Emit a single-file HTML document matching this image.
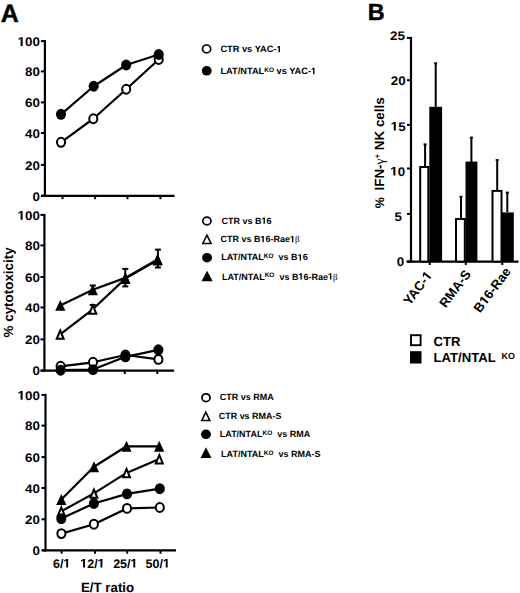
<!DOCTYPE html>
<html><head><meta charset="utf-8"><style>
html,body{margin:0;padding:0;background:#fff;}
body{width:520px;height:593px;overflow:hidden;}
svg{display:block;}
text{font-family:"Liberation Sans", sans-serif;font-weight:bold;fill:#000;text-rendering:geometricPrecision;}
text .one{fill-opacity:0;}
</style></head><body>
<svg width="520" height="593" viewBox="0 0 520 593">
<rect width="520" height="593" fill="#fff"></rect>
<text x="0.8" y="22.4" font-size="25" text-anchor="start" stroke="#000" stroke-width="0.4">A</text>
<text x="367.8" y="19.8" font-size="23.4" text-anchor="start" stroke="#000" stroke-width="0.4">B</text>
<line x1="44.9" y1="40.1" x2="44.9" y2="196.9" stroke="#000" stroke-width="2.2"></line>
<line x1="41.3" y1="195.8" x2="174.6" y2="195.8" stroke="#000" stroke-width="2.2"></line>
<line x1="40.9" y1="41.1" x2="44.9" y2="41.1" stroke="#000" stroke-width="2"></line>
<text x="0" y="0" font-size="12.5" text-anchor="end" transform="translate(39.9,45.90) scale(1.07,1)"><tspan class="one">1</tspan>00</text><g transform="translate(39.9,45.90) scale(1.07,1)"><path d="M462,0L462,1160L130,952L130,1185L486,1409L775,1409L775,0Z" transform="translate(-20.859,0.000) scale(0.006104,-0.006104)"></path></g>
<line x1="40.9" y1="71.4" x2="44.9" y2="71.4" stroke="#000" stroke-width="2"></line>
<text x="0" y="0" font-size="12.5" text-anchor="end" transform="translate(39.9,76.20) scale(1.07,1)">80</text>
<line x1="40.9" y1="102.4" x2="44.9" y2="102.4" stroke="#000" stroke-width="2"></line>
<text x="0" y="0" font-size="12.5" text-anchor="end" transform="translate(39.9,107.20) scale(1.07,1)">60</text>
<line x1="40.9" y1="133" x2="44.9" y2="133" stroke="#000" stroke-width="2"></line>
<text x="0" y="0" font-size="12.5" text-anchor="end" transform="translate(39.9,137.80) scale(1.07,1)">40</text>
<line x1="40.9" y1="164.9" x2="44.9" y2="164.9" stroke="#000" stroke-width="2"></line>
<text x="0" y="0" font-size="12.5" text-anchor="end" transform="translate(39.9,169.70) scale(1.07,1)">20</text>
<line x1="40.9" y1="195.8" x2="44.9" y2="195.8" stroke="#000" stroke-width="2"></line>
<text x="0" y="0" font-size="12.5" text-anchor="end" transform="translate(39.9,200.60) scale(1.07,1)">0</text>
<line x1="62.5" y1="195.8" x2="62.5" y2="199.20000000000002" stroke="#000" stroke-width="2"></line>
<line x1="95.1" y1="195.8" x2="95.1" y2="199.20000000000002" stroke="#000" stroke-width="2"></line>
<line x1="127.5" y1="195.8" x2="127.5" y2="199.20000000000002" stroke="#000" stroke-width="2"></line>
<line x1="160.4" y1="195.8" x2="160.4" y2="199.20000000000002" stroke="#000" stroke-width="2"></line>
<polyline points="61,142.3 93.3,118.75 126.2,89.25 158.7,59.5" fill="none" stroke="#000" stroke-width="2.2" stroke-linejoin="round"></polyline>
<polyline points="61,114.3 93.7,86.25 126.2,65 158.7,54.5" fill="none" stroke="#000" stroke-width="2.2" stroke-linejoin="round"></polyline>
<ellipse cx="61" cy="142.3" rx="4.04" ry="4.46" fill="#fff" stroke="#000" stroke-width="2"></ellipse>
<ellipse cx="93.3" cy="118.75" rx="4.04" ry="4.46" fill="#fff" stroke="#000" stroke-width="2"></ellipse>
<ellipse cx="126.2" cy="89.25" rx="4.04" ry="4.46" fill="#fff" stroke="#000" stroke-width="2"></ellipse>
<ellipse cx="158.7" cy="59.5" rx="4.04" ry="4.46" fill="#fff" stroke="#000" stroke-width="2"></ellipse>
<ellipse cx="61" cy="114.3" rx="5.04" ry="5.46" fill="#000"></ellipse>
<ellipse cx="93.7" cy="86.25" rx="5.04" ry="5.46" fill="#000"></ellipse>
<ellipse cx="126.2" cy="65" rx="5.04" ry="5.46" fill="#000"></ellipse>
<ellipse cx="158.7" cy="54.5" rx="5.04" ry="5.46" fill="#000"></ellipse>
<ellipse cx="206.6" cy="48.9" rx="4.10" ry="3.90" fill="#fff" stroke="#000" stroke-width="1.7"></ellipse>
<text x="220.4" y="52.3" font-size="9.25" text-anchor="start">CTR vs YAC-<tspan class="one">1</tspan></text><g><path d="M462,0L462,1160L130,952L130,1185L486,1409L775,1409L775,0Z" transform="translate(276.447,52.300) scale(0.004517,-0.004517)"></path></g>
<ellipse cx="206.75" cy="70.85" rx="4.95" ry="4.75" fill="#000"></ellipse>
<text x="220.4" y="74.2" font-size="9.25" text-anchor="start">LAT/NTAL<tspan font-size="6.5" dy="-2.1">KO</tspan><tspan dy="2.1"> vs YAC-<tspan class="one">1</tspan></tspan></text><g><path d="M462,0L462,1160L130,952L130,1185L486,1409L775,1409L775,0Z" transform="translate(311.025,74.200) scale(0.004517,-0.004517)"></path></g>
<line x1="44.4" y1="213.9" x2="44.4" y2="371.70000000000005" stroke="#000" stroke-width="2.2"></line>
<line x1="40.8" y1="370.6" x2="174.1" y2="370.6" stroke="#000" stroke-width="2.2"></line>
<line x1="40.4" y1="214.9" x2="44.4" y2="214.9" stroke="#000" stroke-width="2"></line>
<text x="0" y="0" font-size="12.5" text-anchor="end" transform="translate(39.9,219.70) scale(1.07,1)"><tspan class="one">1</tspan>00</text><g transform="translate(39.9,219.70) scale(1.07,1)"><path d="M462,0L462,1160L130,952L130,1185L486,1409L775,1409L775,0Z" transform="translate(-20.859,0.000) scale(0.006104,-0.006104)"></path></g>
<line x1="40.4" y1="245.4" x2="44.4" y2="245.4" stroke="#000" stroke-width="2"></line>
<text x="0" y="0" font-size="12.5" text-anchor="end" transform="translate(39.9,250.20) scale(1.07,1)">80</text>
<line x1="40.4" y1="277" x2="44.4" y2="277" stroke="#000" stroke-width="2"></line>
<text x="0" y="0" font-size="12.5" text-anchor="end" transform="translate(39.9,281.80) scale(1.07,1)">60</text>
<line x1="40.4" y1="307.5" x2="44.4" y2="307.5" stroke="#000" stroke-width="2"></line>
<text x="0" y="0" font-size="12.5" text-anchor="end" transform="translate(39.9,312.30) scale(1.07,1)">40</text>
<line x1="40.4" y1="339.4" x2="44.4" y2="339.4" stroke="#000" stroke-width="2"></line>
<text x="0" y="0" font-size="12.5" text-anchor="end" transform="translate(39.9,344.20) scale(1.07,1)">20</text>
<line x1="40.4" y1="370.6" x2="44.4" y2="370.6" stroke="#000" stroke-width="2"></line>
<text x="0" y="0" font-size="12.5" text-anchor="end" transform="translate(39.9,375.40) scale(1.07,1)">0</text>
<line x1="59.8" y1="370.6" x2="59.8" y2="374.0" stroke="#000" stroke-width="2"></line>
<line x1="92.3" y1="370.6" x2="92.3" y2="374.0" stroke="#000" stroke-width="2"></line>
<line x1="124.8" y1="370.6" x2="124.8" y2="374.0" stroke="#000" stroke-width="2"></line>
<line x1="157.3" y1="370.6" x2="157.3" y2="374.0" stroke="#000" stroke-width="2"></line>
<polyline points="60.3,305.4 92.8,289.8 125.3,277.9 157.6,259.4" fill="none" stroke="#000" stroke-width="2.2" stroke-linejoin="round"></polyline>
<polyline points="60.2,334.4 92.8,309.3 125.3,278.6 157.6,260" fill="none" stroke="#000" stroke-width="2.2" stroke-linejoin="round"></polyline>
<polyline points="60.6,366.3 93,362.3 125.4,355 158.4,359.4" fill="none" stroke="#000" stroke-width="2.2" stroke-linejoin="round"></polyline>
<polyline points="60.6,370.2 93,369.6 125.4,356.8 158.4,349.8" fill="none" stroke="#000" stroke-width="2.2" stroke-linejoin="round"></polyline>
<line x1="125.3" y1="268.9" x2="125.3" y2="286.4" stroke="#000" stroke-width="2"></line>
<line x1="122.3" y1="268.9" x2="128.3" y2="268.9" stroke="#000" stroke-width="2"></line>
<line x1="122.3" y1="286.4" x2="128.3" y2="286.4" stroke="#000" stroke-width="2"></line>
<line x1="157.9" y1="249.6" x2="157.9" y2="267.5" stroke="#000" stroke-width="2"></line>
<line x1="154.9" y1="249.6" x2="160.9" y2="249.6" stroke="#000" stroke-width="2"></line>
<line x1="154.9" y1="267.5" x2="160.9" y2="267.5" stroke="#000" stroke-width="2"></line>
<line x1="92.8" y1="285.5" x2="92.8" y2="294" stroke="#000" stroke-width="2"></line>
<line x1="89.8" y1="285.5" x2="95.8" y2="285.5" stroke="#000" stroke-width="2"></line>
<line x1="89.8" y1="294" x2="95.8" y2="294" stroke="#000" stroke-width="2"></line>
<line x1="92.8" y1="305" x2="92.8" y2="313" stroke="#000" stroke-width="2"></line>
<line x1="89.8" y1="305" x2="95.8" y2="305" stroke="#000" stroke-width="2"></line>
<line x1="89.8" y1="313" x2="95.8" y2="313" stroke="#000" stroke-width="2"></line>
<ellipse cx="60.6" cy="366.3" rx="4.04" ry="4.46" fill="#fff" stroke="#000" stroke-width="2"></ellipse>
<ellipse cx="93" cy="362.3" rx="4.04" ry="4.46" fill="#fff" stroke="#000" stroke-width="2"></ellipse>
<ellipse cx="125.4" cy="355" rx="4.04" ry="4.46" fill="#fff" stroke="#000" stroke-width="2"></ellipse>
<ellipse cx="158.4" cy="359.4" rx="4.04" ry="4.46" fill="#fff" stroke="#000" stroke-width="2"></ellipse>
<ellipse cx="60.6" cy="370.2" rx="5.04" ry="5.46" fill="#000"></ellipse>
<ellipse cx="93" cy="369.6" rx="5.04" ry="5.46" fill="#000"></ellipse>
<ellipse cx="125.4" cy="356.8" rx="5.04" ry="5.46" fill="#000"></ellipse>
<ellipse cx="158.4" cy="349.8" rx="5.04" ry="5.46" fill="#000"></ellipse>
<polygon points="60.20,330.49 63.70,338.81 56.70,338.81" fill="#fff" stroke="#000" stroke-width="2" stroke-linejoin="miter"></polygon>
<polygon points="92.80,305.39 96.30,313.71 89.30,313.71" fill="#fff" stroke="#000" stroke-width="2" stroke-linejoin="miter"></polygon>
<polygon points="125.30,274.69 128.80,283.01 121.80,283.01" fill="#fff" stroke="#000" stroke-width="2" stroke-linejoin="miter"></polygon>
<polygon points="157.60,256.09 161.10,264.41 154.10,264.41" fill="#fff" stroke="#000" stroke-width="2" stroke-linejoin="miter"></polygon>
<polygon points="60.30,299.94 65.40,310.86 55.20,310.86" fill="#000"></polygon>
<polygon points="92.80,284.34 97.90,295.26 87.70,295.26" fill="#000"></polygon>
<polygon points="125.30,272.44 130.40,283.36 120.20,283.36" fill="#000"></polygon>
<polygon points="157.60,253.94 162.70,264.86 152.50,264.86" fill="#000"></polygon>
<ellipse cx="206.9" cy="221" rx="4.10" ry="3.90" fill="#fff" stroke="#000" stroke-width="1.7"></ellipse>
<text x="221.5" y="223.8" font-size="9.0" text-anchor="start">CTR vs B<tspan class="one">1</tspan>6</text><g><path d="M462,0L462,1160L130,952L130,1185L486,1409L775,1409L775,0Z" transform="translate(261.516,223.800) scale(0.004395,-0.004395)"></path></g>
<polygon points="206.90,235.20 211.05,243.40 202.75,243.40" fill="#fff" stroke="#000" stroke-width="1.55"></polygon>
<text x="220.4" y="242.3" font-size="9.0" text-anchor="start">CTR vs B<tspan class="one">1</tspan>6-Rae<tspan class="one">1</tspan><tspan font-family="Liberation Serif" font-weight="normal">β</tspan></text><g><path d="M462,0L462,1160L130,952L130,1185L486,1409L775,1409L775,0Z" transform="translate(260.416,242.300) scale(0.004395,-0.004395)"></path><path d="M462,0L462,1160L130,952L130,1185L486,1409L775,1409L775,0Z" transform="translate(289.947,242.300) scale(0.004395,-0.004395)"></path></g>
<ellipse cx="207.05" cy="257.65" rx="4.95" ry="4.75" fill="#000"></ellipse>
<text x="221.2" y="260.4" font-size="9.0" text-anchor="start">LAT/NTAL<tspan font-size="6.5" dy="-2.1">KO</tspan><tspan dy="2.1">&nbsp; vs B<tspan class="one">1</tspan>6</tspan></text><g><path d="M462,0L462,1160L130,952L130,1185L486,1409L775,1409L775,0Z" transform="translate(297.622,260.400) scale(0.004395,-0.004395)"></path></g>
<polygon points="207.10,270.80 212.70,281.20 201.50,281.20" fill="#000"></polygon>
<text x="222" y="279.5" font-size="9.0" text-anchor="start">LAT/NTAL<tspan font-size="6.5" dy="-2.1">KO</tspan><tspan dy="2.1">&nbsp; vs B<tspan class="one">1</tspan>6-Rae<tspan class="one">1</tspan></tspan><tspan font-family="Liberation Serif" font-weight="normal">β</tspan></text><g><path d="M462,0L462,1160L130,952L130,1185L486,1409L775,1409L775,0Z" transform="translate(298.422,279.500) scale(0.004395,-0.004395)"></path><path d="M462,0L462,1160L130,952L130,1185L486,1409L775,1409L775,0Z" transform="translate(327.953,279.500) scale(0.004395,-0.004395)"></path></g>
<line x1="45.5" y1="393.9" x2="45.5" y2="551.4" stroke="#000" stroke-width="2.2"></line>
<line x1="41.9" y1="550.3" x2="176" y2="550.3" stroke="#000" stroke-width="2.2"></line>
<line x1="41.5" y1="394.9" x2="45.5" y2="394.9" stroke="#000" stroke-width="2"></line>
<text x="0" y="0" font-size="12.5" text-anchor="end" transform="translate(39.9,399.70) scale(1.07,1)"><tspan class="one">1</tspan>00</text><g transform="translate(39.9,399.70) scale(1.07,1)"><path d="M462,0L462,1160L130,952L130,1185L486,1409L775,1409L775,0Z" transform="translate(-20.859,0.000) scale(0.006104,-0.006104)"></path></g>
<line x1="41.5" y1="425.6" x2="45.5" y2="425.6" stroke="#000" stroke-width="2"></line>
<text x="0" y="0" font-size="12.5" text-anchor="end" transform="translate(39.9,430.40) scale(1.07,1)">80</text>
<line x1="41.5" y1="457.1" x2="45.5" y2="457.1" stroke="#000" stroke-width="2"></line>
<text x="0" y="0" font-size="12.5" text-anchor="end" transform="translate(39.9,461.90) scale(1.07,1)">60</text>
<line x1="41.5" y1="488" x2="45.5" y2="488" stroke="#000" stroke-width="2"></line>
<text x="0" y="0" font-size="12.5" text-anchor="end" transform="translate(39.9,492.80) scale(1.07,1)">40</text>
<line x1="41.5" y1="519.3" x2="45.5" y2="519.3" stroke="#000" stroke-width="2"></line>
<text x="0" y="0" font-size="12.5" text-anchor="end" transform="translate(39.9,524.10) scale(1.07,1)">20</text>
<line x1="41.5" y1="550.3" x2="45.5" y2="550.3" stroke="#000" stroke-width="2"></line>
<text x="0" y="0" font-size="12.5" text-anchor="end" transform="translate(39.9,555.10) scale(1.07,1)">0</text>
<line x1="61.6" y1="550.3" x2="61.6" y2="553.6999999999999" stroke="#000" stroke-width="2"></line>
<line x1="95" y1="550.3" x2="95" y2="553.6999999999999" stroke="#000" stroke-width="2"></line>
<line x1="127.2" y1="550.3" x2="127.2" y2="553.6999999999999" stroke="#000" stroke-width="2"></line>
<line x1="160.5" y1="550.3" x2="160.5" y2="553.6999999999999" stroke="#000" stroke-width="2"></line>
<polyline points="61.3,499.5 94,466.8 126.5,446.3 159.2,446.3" fill="none" stroke="#000" stroke-width="2.2" stroke-linejoin="round"></polyline>
<polyline points="61.3,511.3 93.9,493.4 126.5,472.9 159.3,459" fill="none" stroke="#000" stroke-width="2.2" stroke-linejoin="round"></polyline>
<polyline points="61.3,518.6 93.9,503.5 127,493.9 159.8,488.7" fill="none" stroke="#000" stroke-width="2.2" stroke-linejoin="round"></polyline>
<polyline points="61.4,533.6 93.9,524.2 127,508.4 159.8,507.5" fill="none" stroke="#000" stroke-width="2.2" stroke-linejoin="round"></polyline>
<ellipse cx="61.4" cy="533.6" rx="4.04" ry="4.46" fill="#fff" stroke="#000" stroke-width="2"></ellipse>
<ellipse cx="93.9" cy="524.2" rx="4.04" ry="4.46" fill="#fff" stroke="#000" stroke-width="2"></ellipse>
<ellipse cx="127" cy="508.4" rx="4.04" ry="4.46" fill="#fff" stroke="#000" stroke-width="2"></ellipse>
<ellipse cx="159.8" cy="507.5" rx="4.04" ry="4.46" fill="#fff" stroke="#000" stroke-width="2"></ellipse>
<polygon points="61.30,507.39 64.80,515.71 57.80,515.71" fill="#fff" stroke="#000" stroke-width="2" stroke-linejoin="miter"></polygon>
<polygon points="93.90,489.49 97.40,497.81 90.40,497.81" fill="#fff" stroke="#000" stroke-width="2" stroke-linejoin="miter"></polygon>
<polygon points="126.50,468.99 130.00,477.31 123.00,477.31" fill="#fff" stroke="#000" stroke-width="2" stroke-linejoin="miter"></polygon>
<polygon points="159.30,455.09 162.80,463.41 155.80,463.41" fill="#fff" stroke="#000" stroke-width="2" stroke-linejoin="miter"></polygon>
<polygon points="61.30,494.04 66.40,504.96 56.20,504.96" fill="#000"></polygon>
<polygon points="94.00,461.34 99.10,472.26 88.90,472.26" fill="#000"></polygon>
<polygon points="126.50,440.84 131.60,451.76 121.40,451.76" fill="#000"></polygon>
<polygon points="159.20,440.84 164.30,451.76 154.10,451.76" fill="#000"></polygon>
<ellipse cx="61.3" cy="518.6" rx="5.04" ry="5.46" fill="#000"></ellipse>
<ellipse cx="93.9" cy="503.5" rx="5.04" ry="5.46" fill="#000"></ellipse>
<ellipse cx="127" cy="493.9" rx="5.04" ry="5.46" fill="#000"></ellipse>
<ellipse cx="159.8" cy="488.7" rx="5.04" ry="5.46" fill="#000"></ellipse>
<text x="61.65" y="567.5" font-size="12.5" text-anchor="middle">6/<tspan class="one">1</tspan></text><g><path d="M462,0L462,1160L130,952L130,1185L486,1409L775,1409L775,0Z" transform="translate(63.392,567.500) scale(0.006104,-0.006104)"></path></g>
<text x="92.45" y="567.5" font-size="12.5" text-anchor="middle"><tspan class="one">1</tspan>2/<tspan class="one">1</tspan></text><g><path d="M462,0L462,1160L130,952L130,1185L486,1409L775,1409L775,0Z" transform="translate(80.278,567.500) scale(0.006104,-0.006104)"></path><path d="M462,0L462,1160L130,952L130,1185L486,1409L775,1409L775,0Z" transform="translate(97.669,567.500) scale(0.006104,-0.006104)"></path></g>
<text x="125.3" y="567.5" font-size="12.5" text-anchor="middle">25/<tspan class="one">1</tspan></text><g><path d="M462,0L462,1160L130,952L130,1185L486,1409L775,1409L775,0Z" transform="translate(130.519,567.500) scale(0.006104,-0.006104)"></path></g>
<text x="157.7" y="567.5" font-size="12.5" text-anchor="middle">50/<tspan class="one">1</tspan></text><g><path d="M462,0L462,1160L130,952L130,1185L486,1409L775,1409L775,0Z" transform="translate(162.919,567.500) scale(0.006104,-0.006104)"></path></g>
<text x="107.6" y="591.7" font-size="13.3" text-anchor="middle">E/T ratio</text>
<text x="0" y="0" font-size="13.4" text-anchor="middle" transform="translate(12.6,292.4) rotate(-90)">% cytotoxicity</text>
<ellipse cx="206" cy="397.7" rx="4.10" ry="3.90" fill="#fff" stroke="#000" stroke-width="1.7"></ellipse>
<text x="219.8" y="399.8" font-size="9.0" text-anchor="start">CTR vs RMA</text>
<polygon points="205.80,412.15 209.85,420.55 201.75,420.55" fill="#fff" stroke="#000" stroke-width="1.55"></polygon>
<text x="218.8" y="418.7" font-size="8.95" text-anchor="start">CTR vs RMA-S</text>
<ellipse cx="206" cy="434.3" rx="4.95" ry="4.75" fill="#000"></ellipse>
<text x="219.8" y="436.7" font-size="9.0" text-anchor="start">LAT/NTAL<tspan font-size="6.5" dy="-2.1">KO</tspan><tspan dy="2.1">&nbsp; vs RMA</tspan></text>
<polygon points="206.00,447.30 211.45,457.90 200.55,457.90" fill="#000"></polygon>
<text x="221.1" y="456.9" font-size="9.0" text-anchor="start">LAT/NTAL<tspan font-size="6.5" dy="-2.1">KO</tspan><tspan dy="2.1">&nbsp; vs RMA-S</tspan></text>
<line x1="411" y1="36.9" x2="411" y2="262.6" stroke="#000" stroke-width="2.2"></line>
<line x1="406.5" y1="261.6" x2="518.5" y2="261.6" stroke="#000" stroke-width="2.2"></line>
<line x1="407" y1="37.9" x2="411" y2="37.9" stroke="#000" stroke-width="2"></line>
<line x1="407" y1="80.2" x2="411" y2="80.2" stroke="#000" stroke-width="2"></line>
<line x1="407" y1="124.9" x2="411" y2="124.9" stroke="#000" stroke-width="2"></line>
<line x1="407" y1="168.5" x2="411" y2="168.5" stroke="#000" stroke-width="2"></line>
<line x1="407" y1="213.9" x2="411" y2="213.9" stroke="#000" stroke-width="2"></line>
<line x1="407" y1="261.6" x2="411" y2="261.6" stroke="#000" stroke-width="2"></line>
<text x="0" y="0" font-size="12.5" text-anchor="end" transform="translate(405,39.9) scale(1.07,1)">25</text>
<text x="0" y="0" font-size="12.5" text-anchor="end" transform="translate(405.6,85.3) scale(1.07,1)">20</text>
<text x="0" y="0" font-size="12.5" text-anchor="end" transform="translate(405.6,130.5) scale(1.07,1)"><tspan class="one">1</tspan>5</text><g transform="translate(405.6,130.5) scale(1.07,1)"><path d="M462,0L462,1160L130,952L130,1185L486,1409L775,1409L775,0Z" transform="translate(-13.906,0.000) scale(0.006104,-0.006104)"></path></g>
<text x="0" y="0" font-size="12.5" text-anchor="end" transform="translate(405.2,175.5) scale(1.07,1)"><tspan class="one">1</tspan>0</text><g transform="translate(405.2,175.5) scale(1.07,1)"><path d="M462,0L462,1160L130,952L130,1185L486,1409L775,1409L775,0Z" transform="translate(-13.906,0.000) scale(0.006104,-0.006104)"></path></g>
<text x="0" y="0" font-size="12.5" text-anchor="end" transform="translate(401.9,221) scale(1.07,1)">5</text>
<text x="0" y="0" font-size="12.5" text-anchor="end" transform="translate(404.2,265.8) scale(1.07,1)">0</text>
<line x1="429.8" y1="261.6" x2="429.8" y2="265" stroke="#000" stroke-width="2"></line>
<line x1="465.8" y1="261.6" x2="465.8" y2="265" stroke="#000" stroke-width="2"></line>
<line x1="502.3" y1="261.6" x2="502.3" y2="265" stroke="#000" stroke-width="2"></line>
<line x1="425.1" y1="144.4" x2="425.1" y2="166" stroke="#000" stroke-width="2"></line>
<line x1="423.6" y1="144.4" x2="426.6" y2="144.4" stroke="#000" stroke-width="2"></line>
<rect x="420.2" y="167" width="8.100000000000023" height="94.60000000000002" fill="#fff" stroke="#000" stroke-width="2"></rect>
<line x1="435.7" y1="63.3" x2="435.7" y2="107" stroke="#000" stroke-width="2"></line>
<line x1="434.2" y1="63.3" x2="437.2" y2="63.3" stroke="#000" stroke-width="2"></line>
<rect x="429.3" y="106.8" width="12.800000000000011" height="154.8" fill="#000"></rect>
<line x1="461.0" y1="196.8" x2="461.0" y2="218" stroke="#000" stroke-width="2"></line>
<line x1="459.5" y1="196.8" x2="462.5" y2="196.8" stroke="#000" stroke-width="2"></line>
<rect x="456" y="219" width="8.800000000000011" height="42.60000000000002" fill="#fff" stroke="#000" stroke-width="2"></rect>
<line x1="471.4" y1="137.6" x2="471.4" y2="162" stroke="#000" stroke-width="2"></line>
<line x1="469.9" y1="137.6" x2="472.9" y2="137.6" stroke="#000" stroke-width="2"></line>
<rect x="465.5" y="161.6" width="11.899999999999977" height="100.00000000000003" fill="#000"></rect>
<line x1="497.2" y1="160.1" x2="497.2" y2="190" stroke="#000" stroke-width="2"></line>
<line x1="495.7" y1="160.1" x2="498.7" y2="160.1" stroke="#000" stroke-width="2"></line>
<rect x="492.5" y="190.9" width="9.0" height="70.70000000000002" fill="#fff" stroke="#000" stroke-width="2"></rect>
<line x1="507.3" y1="192.6" x2="507.3" y2="212" stroke="#000" stroke-width="2"></line>
<line x1="505.8" y1="192.6" x2="508.8" y2="192.6" stroke="#000" stroke-width="2"></line>
<rect x="502.0" y="212.4" width="11.799999999999955" height="49.20000000000002" fill="#000"></rect>
<text x="0" y="0" font-size="13.1" text-anchor="end" transform="translate(432.7,275.6) rotate(-53)">YAC-<tspan class="one">1</tspan></text><g transform="translate(432.7,275.6) rotate(-53)"><path d="M462,0L462,1160L130,952L130,1185L486,1409L775,1409L775,0Z" transform="translate(-7.297,0.000) scale(0.006396,-0.006396)"></path></g>
<text x="0" y="0" font-size="13.1" text-anchor="end" transform="translate(471.5,274.3) rotate(-53)">RMA-S</text>
<text x="0" y="0" font-size="13.1" text-anchor="end" transform="translate(511.5,271.6) rotate(-53)">B<tspan class="one">1</tspan>6-Rae</text><g transform="translate(511.5,271.6) rotate(-53)"><path d="M462,0L462,1160L130,952L130,1185L486,1409L775,1409L775,0Z" transform="translate(-42.969,0.000) scale(0.006396,-0.006396)"></path></g>
<text x="0" y="0" font-size="13.4" text-anchor="start" transform="translate(383.6,208.3) rotate(-90)"><tspan font-size="12.6">%</tspan><tspan dx="2.9"> IFN-</tspan><tspan font-family="Liberation Serif" font-weight="normal">γ</tspan><tspan font-size="8" dy="-4">+</tspan><tspan dy="4"> NK cells</tspan></text>
<rect x="411" y="335.2" width="9.6" height="10" fill="#fff" stroke="#000" stroke-width="1.9"></rect>
<rect x="410" y="351.2" width="11.5" height="12.3" fill="#000"></rect>
<text x="433.6" y="346.2" font-size="13.1" text-anchor="start">CTR</text>
<text x="433.6" y="362.4" font-size="13.1" text-anchor="start">LAT/NTAL</text>
<text x="501.6" y="358.6" font-size="8.9" text-anchor="start">KO</text>
</svg>

</body></html>
